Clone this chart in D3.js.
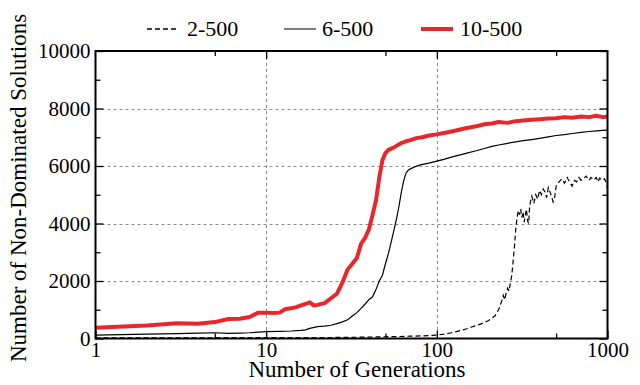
<!DOCTYPE html>
<html>
<head>
<meta charset="utf-8">
<script src="https://cdn.jsdelivr.net/npm/d3@7"></script>
<style>
  html, body { margin: 0; padding: 0; background: #fff; }
</style>
</head>
<body>
<svg id="chart" width="640" height="385"></svg>
<script>
// Generations sampled for each run and the count of non-dominated solutions found.
const gen10 = [1,2,3,4,5,6,7,8,9,10,11,12,13,14,15,16,17,18,19,20,22,24,26,28,30,32,34,36,38,40,42,44,46,48,50,52,55,58,62,66,70,76,82,90,100,110,120,135,150,170,190,210,230,260,290,320,360,400,450,500,560,620,700,780,860,940,1000];
const val10 = [370,450,530,510,570,680,690,750,900,900,890,900,1030,1050,1090,1150,1200,1260,1150,1170,1230,1400,1560,1950,2400,2600,2800,3300,3500,3800,4300,4800,5600,6200,6450,6560,6620,6700,6800,6860,6900,6970,7000,7060,7100,7150,7190,7260,7320,7380,7450,7480,7530,7500,7560,7580,7610,7630,7650,7660,7700,7680,7720,7700,7750,7700,7720];

const gen6 = [1,2,3,4,5,6,7,8,9,10,12,14,16,17,18,20,22,24,26,28,30,32,34,36,38,40,42,44,46,48,50,52,54,56,58,60,62,64,66,68,70,75,80,90,100,110,120,135,150,170,190,210,230,260,290,320,360,400,450,500,560,620,700,780,860,940,1000];
const val6 = [120,150,170,190,200,180,190,200,220,240,250,260,280,300,350,410,430,460,520,580,650,780,900,1050,1200,1350,1450,1700,2000,2200,2600,2950,3350,3750,4150,4600,5100,5500,5750,5850,5900,5980,6040,6100,6170,6230,6300,6380,6450,6530,6610,6680,6730,6790,6840,6880,6920,6960,7010,7060,7090,7130,7170,7200,7220,7240,7250];

const gen2 = [1,10,20,30,40,50,60,70,80,90,100,110,120,130,140,150,160,170,180,190,200,210,220,230,240,245,250,255,260,265,270,275,280,285,290,295,300,305,310,315,320,325,330,335,340,345,350,355,360,370,380,390,400,410,420,430,440,450,460,470,480,490,500,520,540,560,580,600,620,640,660,680,700,720,750,780,800,830,860,880,900,930,960,980,1000];
const val2 = [20,30,30,40,50,60,70,80,90,100,120,150,190,240,290,340,400,450,500,560,620,700,800,1000,1300,1500,1350,1600,1750,1650,1950,2200,2700,3200,3800,4200,4450,4300,4500,4200,4400,4050,4300,4500,4100,4000,4600,4800,4950,4700,5000,4850,5150,5000,5200,5100,4900,5250,5100,4950,4750,4900,5300,5450,5550,5400,5600,5450,5300,5500,5450,5600,5500,5550,5650,5500,5600,5520,5600,5450,5580,5500,5550,5450,5200];

// Axis tick values
const xMajorTicks = [1, 10, 100, 1000];
const xMinorTicks = [5, 50, 500];
const yMajorTicks = [0, 2000, 4000, 6000, 8000, 10000];
const yMinorTicks = [1000, 3000, 5000, 7000, 9000];

// Legend entries
const seriesNames = ["2-500", "6-500", "10-500"];

const FONT = "Liberation Serif, Tinos, Times New Roman, Times, DejaVu Serif, serif";
const svg = d3.select("#chart").attr("font-family", FONT);
const plotLeft = 95.5, plotRight = 607.5, plotTop = 51, plotBottom = 338.5;

const x = d3.scaleLog().domain([1, 1000]).range([plotLeft, plotRight]);
const y = d3.scaleLinear().domain([0, 10000]).range([plotBottom, plotTop]);

// Dashed grid at the major ticks
const grid = svg.append("g").attr("stroke", "#8c8c8c").attr("stroke-width", 1).attr("stroke-dasharray", "3,3");
grid.selectAll("line.gx").data([10, 100]).enter().append("line")
  .attr("x1", d => Math.round(x(d)) + 0.5).attr("x2", d => Math.round(x(d)) + 0.5)
  .attr("y1", plotTop).attr("y2", plotBottom);
grid.selectAll("line.gy").data([2000, 4000, 6000, 8000]).enter().append("line")
  .attr("y1", d => Math.round(y(d)) + 0.5).attr("y2", d => Math.round(y(d)) + 0.5)
  .attr("x1", plotLeft).attr("x2", plotRight);

// Inward ticks on all four sides
function styleAxis(g) {
  g.attr("font-family", FONT).attr("font-size", 21);
  g.select(".domain").remove();
  g.selectAll(".tick line").attr("stroke", "#000").attr("stroke-width", 1.3);
  g.selectAll("text").attr("fill", "#000");
}

svg.append("g").attr("transform", `translate(0,${plotBottom})`)
  .call(d3.axisBottom(x).tickValues(xMajorTicks).tickSize(-8).tickPadding(4).tickFormat(d3.format("d")))
  .call(styleAxis)
  .call(g => g.selectAll("text").attr("dy", "0.71em"));
svg.append("g").attr("transform", `translate(0,${plotBottom})`)
  .call(d3.axisBottom(x).tickValues(xMinorTicks).tickSize(-5).tickFormat(""))
  .call(styleAxis);
svg.append("g").attr("transform", `translate(0,${plotTop})`)
  .call(d3.axisTop(x).tickValues([10, 100]).tickSize(-8).tickFormat(""))
  .call(styleAxis);
svg.append("g").attr("transform", `translate(0,${plotTop})`)
  .call(d3.axisTop(x).tickValues(xMinorTicks).tickSize(-5).tickFormat(""))
  .call(styleAxis);

svg.append("g").attr("transform", `translate(${plotLeft},0)`)
  .call(d3.axisLeft(y).tickValues(yMajorTicks).tickSize(-8).tickPadding(5).tickFormat(d3.format("d")))
  .call(styleAxis);
svg.append("g").attr("transform", `translate(${plotLeft},0)`)
  .call(d3.axisLeft(y).tickValues(yMinorTicks).tickSize(-5).tickFormat(""))
  .call(styleAxis);
svg.append("g").attr("transform", `translate(${plotRight},0)`)
  .call(d3.axisRight(y).tickValues(yMajorTicks).tickSize(-8).tickFormat(""))
  .call(styleAxis);
svg.append("g").attr("transform", `translate(${plotRight},0)`)
  .call(d3.axisRight(y).tickValues(yMinorTicks).tickSize(-5).tickFormat(""))
  .call(styleAxis);

// Series lines
const line = d3.line().x(d => x(d[0])).y(d => y(d[1]));
const plot = svg.append("g");
plot.append("path").datum(d3.zip(gen2, val2)).attr("d", line)
  .attr("fill", "none").attr("stroke", "#000").attr("stroke-width", 1.2).attr("stroke-dasharray", "5,3");
plot.append("path").datum(d3.zip(gen6, val6)).attr("d", line)
  .attr("fill", "none").attr("stroke", "#000").attr("stroke-width", 1.2);
plot.append("path").datum(d3.zip(gen10, val10)).attr("d", line)
  .attr("fill", "none").attr("stroke", "#e8262b").attr("stroke-width", 4).attr("stroke-linejoin", "round");

// Frame
svg.append("rect").attr("x", plotLeft).attr("y", plotTop).attr("width", plotRight - plotLeft).attr("height", plotBottom - plotTop)
  .attr("fill", "none").attr("stroke", "#000").attr("stroke-width", 2);

// Axis titles
svg.append("text").attr("x", 357).attr("y", 377).attr("text-anchor", "middle")
  .attr("font-size", 23).attr("fill", "#000").text("Number of Generations");
svg.append("text").attr("transform", "translate(26,188) rotate(-90)").attr("text-anchor", "middle")
  .attr("font-size", 23).attr("fill", "#000").text("Number of Non-Dominated Solutions");

// Legend
const legendItems = [
  { name: seriesNames[0], x1: 147, x2: 177, tx: 187, stroke: "#000", width: 1.5, dash: "5,3" },
  { name: seriesNames[1], x1: 284, x2: 316, tx: 322, stroke: "#000", width: 1, dash: null },
  { name: seriesNames[2], x1: 421, x2: 453, tx: 460, stroke: "#e8262b", width: 4, dash: null }
];
const lg = svg.append("g");
legendItems.forEach(it => {
  lg.append("line").attr("x1", it.x1).attr("x2", it.x2).attr("y1", 29).attr("y2", 29)
    .attr("stroke", it.stroke).attr("stroke-width", it.width).attr("stroke-dasharray", it.dash);
  lg.append("text").attr("x", it.tx).attr("y", 36).attr("font-size", 22)
    .attr("fill", "#000").text(it.name);
});
</script>
</body>
</html>
